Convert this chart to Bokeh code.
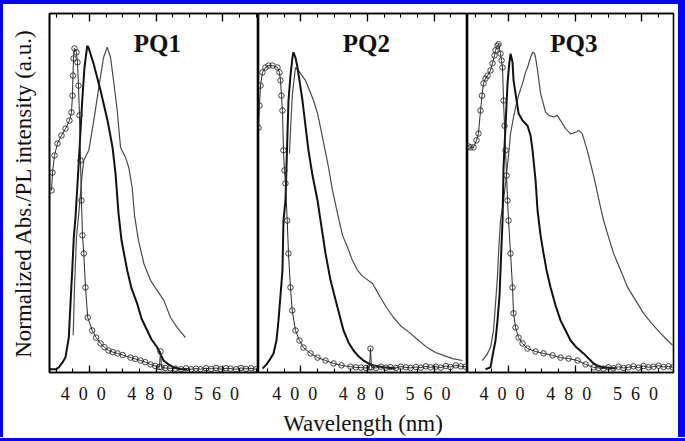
from bokeh.plotting import figure
from bokeh.layouts import row, column
from bokeh.models import Range1d, FixedTicker, LinearAxis, Label, Div
from bokeh.embed import file_html
from bokeh.resources import INLINE

# ---------------- data ----------------
WAVELENGTH_TICKS = [400, 480, 560]
WAVELENGTH_MINOR = [360, 380, 400, 420, 440, 460, 480, 500, 520, 540, 560, 580, 600]
TICK_LABELS = ["4 0 0", "4 8 0", "5 6 0"]
PANEL_TITLES = ["PQ1", "PQ2", "PQ3"]
Y_LABEL = "Normalized Abs./PL intensity (a.u.)"
X_LABEL = "Wavelength (nm)"

# PQ1
pq1_abs_nm = [354.4, 355.6, 358.0, 361.6, 366.4, 371.2, 376.0, 378.4, 379.6, 380.2, 380.8, 382.0,
              384.4, 385.6, 386.8, 388.0, 389.2, 390.4, 391.6, 393.2, 395.2, 397.9, 403.3, 408.0,
              413.3, 418.0, 422.9, 428.0, 433.7, 440.0, 449.3, 455.0, 461.3, 467.0, 473.3, 479.0,
              484.0, 485.3, 486.5, 491.0, 497.0, 503.3, 510.0, 516.0, 522.0, 528.0, 533.4, 540.0,
              546.0, 552.0, 558.0, 564.0, 569.4, 576.0, 582.0, 588.0, 594.0, 600.0]
pq1_abs = [0.553, 0.608, 0.661, 0.698, 0.723, 0.744, 0.769, 0.794, 0.846, 0.908, 0.961, 0.992,
           0.980, 0.949, 0.877, 0.785, 0.646, 0.522, 0.414, 0.358, 0.253, 0.160, 0.120, 0.098,
           0.080, 0.068, 0.058, 0.053, 0.049, 0.044, 0.036, 0.032, 0.027, 0.022, 0.015, 0.010,
           0.007, 0.055, 0.006, 0.004, 0.003, 0.002, 0.0, 0.003, 0.0, 0.002, 0.0, 0.003,
           0.001, 0.004, 0.0, 0.003, 0.002, 0.0, 0.004, 0.001, 0.003, 0.0]
pq1_sol_nm = [352.0, 359.2, 363.2, 367.6, 371.2, 375.2, 377.2, 379.3, 381.2, 383.2, 386.8, 391.3,
              394.0, 397.3, 398.8, 404.8, 413.3, 421.7, 427.7, 431.3, 434.9, 438.5, 445.3, 450.5,
              457.3, 462.5, 469.3, 474.5, 481.3, 488.9, 494.9, 500.9, 509.3, 517.4]
pq1_sol = [0.0, 0.0, 0.006, 0.021, 0.037, 0.099, 0.203, 0.306, 0.408, 0.469, 0.624, 0.831,
           0.933, 1.0, 0.995, 0.946, 0.862, 0.769, 0.686, 0.605, 0.482, 0.398, 0.306, 0.250,
           0.203, 0.157, 0.120, 0.092, 0.068, 0.027, 0.015, 0.006, 0.0, 0.0]
pq1_film_nm = [380.5, 382.0, 384.4, 387.2, 391.3, 393.2, 399.2, 405.2, 411.2, 416.9, 421.3, 425.3,
               428.9, 433.3, 437.3, 443.3, 447.2, 451.3, 454.1, 458.9, 465.3, 473.3, 481.3, 489.3,
               497.3, 505.4, 515.3]
pq1_film = [0.105, 0.253, 0.408, 0.482, 0.605, 0.646, 0.677, 0.769, 0.871, 0.964, 0.996, 0.964,
            0.893, 0.800, 0.686, 0.655, 0.624, 0.562, 0.476, 0.398, 0.327, 0.275, 0.244, 0.213,
            0.160, 0.129, 0.098]

# PQ2
pq2_abs_nm = [349.0, 350.2, 351.4, 353.8, 357.4, 361.0, 365.8, 371.8, 374.2, 375.4, 376.6, 377.8,
              379.0, 380.2, 381.4, 383.5, 385.0, 387.4, 389.5, 393.4, 398.2, 403.0, 411.5, 419.9,
              429.5, 439.1, 448.7, 459.5, 466.0, 472.0, 478.0, 482.3, 483.5, 484.7, 490.0, 496.0,
              502.0, 507.5, 514.0, 520.0, 526.0, 531.6, 538.0, 544.0, 550.0, 555.6, 562.0, 568.0,
              574.0, 579.6, 586.0, 592.0, 597.6]
pq2_abs = [0.747, 0.815, 0.877, 0.918, 0.933, 0.939, 0.939, 0.933, 0.918, 0.893, 0.846, 0.800,
           0.677, 0.615, 0.575, 0.460, 0.358, 0.253, 0.182, 0.120, 0.089, 0.067, 0.049, 0.036,
           0.027, 0.018, 0.012, 0.008, 0.006, 0.005, 0.004, 0.006, 0.064, 0.006, 0.004, 0.008,
           0.005, 0.007, 0.004, 0.008, 0.006, 0.004, 0.007, 0.005, 0.009, 0.006, 0.008, 0.005,
           0.010, 0.007, 0.012, 0.009, 0.008]
pq2_sol_nm = [353.8, 358.6, 363.4, 367.0, 370.6, 373.0, 375.4, 377.8, 379.0, 381.4, 383.2, 385.0,
              387.4, 389.8, 391.0, 393.4, 395.8, 398.2, 401.8, 405.4, 409.0, 413.9, 419.9, 423.5,
              429.5, 435.5, 443.9, 451.1, 457.1, 463.1, 469.1, 475.1, 481.1, 487.1, 499.1, 513.5]
pq2_sol = [0.002, 0.015, 0.033, 0.049, 0.089, 0.151, 0.228, 0.306, 0.460, 0.522, 0.677, 0.831,
           0.908, 0.964, 0.980, 0.964, 0.933, 0.893, 0.831, 0.753, 0.677, 0.599, 0.522, 0.460,
           0.358, 0.275, 0.191, 0.120, 0.083, 0.058, 0.040, 0.027, 0.018, 0.012, 0.006, 0.002]
pq2_film_nm = [386.2, 388.0, 389.8, 393.4, 397.0, 399.4, 405.4, 410.3, 415.1, 419.9, 423.5, 428.3,
               433.1, 437.9, 443.9, 449.9, 455.9, 461.9, 467.9, 473.9, 477.5, 485.9, 490.7, 495.5,
               502.7, 511.1, 520.7, 531.6, 541.2, 551.8, 561.6, 571.2, 582.0, 594.0]
pq2_film = [0.667, 0.769, 0.853, 0.933, 0.924, 0.915, 0.893, 0.862, 0.831, 0.791, 0.747, 0.686,
            0.624, 0.553, 0.482, 0.414, 0.377, 0.336, 0.306, 0.288, 0.281, 0.265, 0.244, 0.222,
            0.191, 0.160, 0.132, 0.111, 0.089, 0.067, 0.052, 0.043, 0.033, 0.027]

# PQ3
pq3_abs_nm = [352.2, 354.6, 358.2, 361.8, 364.2, 366.6, 368.4, 370.2, 372.6, 375.0, 378.6, 381.0,
              383.4, 384.6, 387.0, 388.2, 390.6, 391.8, 393.0, 394.2, 395.4, 396.6, 397.8, 399.0,
              400.2, 402.6, 405.0, 406.2, 408.6, 412.2, 417.0, 423.0, 432.6, 442.2, 453.0, 462.6,
              472.2, 483.0, 492.6, 502.2, 508.0, 514.0, 520.0, 526.0, 532.0, 538.0, 544.0, 550.0,
              556.0, 562.0, 568.0, 574.0, 580.0, 586.0, 592.0, 597.0]
pq3_abs = [0.689, 0.686, 0.686, 0.708, 0.729, 0.800, 0.846, 0.884, 0.899, 0.908, 0.924, 0.946,
           0.970, 0.986, 1.0, 1.005, 0.976, 0.955, 0.933, 0.831, 0.753, 0.677, 0.599, 0.522,
           0.460, 0.358, 0.253, 0.173, 0.129, 0.098, 0.080, 0.064, 0.055, 0.049, 0.043, 0.036,
           0.033, 0.027, 0.015, 0.006, 0.004, 0.002, 0.006, 0.003, 0.008, 0.004, 0.006, 0.009,
           0.005, 0.010, 0.006, 0.008, 0.011, 0.007, 0.009, 0.006]
pq3_sol_nm = [372.6, 378.6, 382.2, 384.6, 387.0, 389.4, 390.6, 393.0, 394.2, 396.6, 399.0, 400.8,
              402.6, 405.0, 406.2, 408.6, 412.2, 417.0, 423.0, 426.6, 429.0, 432.6, 435.0, 438.6,
              442.2, 445.8, 450.6, 456.6, 462.6, 468.6, 474.6, 481.8, 490.2, 496.2, 502.2, 508.2,
              514.2, 528.6]
pq3_sol = [0.0, 0.006, 0.058, 0.089, 0.151, 0.228, 0.306, 0.460, 0.624, 0.753, 0.884, 0.939,
           0.976, 0.949, 0.893, 0.853, 0.791, 0.769, 0.753, 0.723, 0.677, 0.584, 0.491, 0.414,
           0.358, 0.306, 0.253, 0.197, 0.151, 0.120, 0.089, 0.067, 0.049, 0.033, 0.018, 0.009,
           0.006, 0.002]
pq3_film_nm = [368.6, 373.8, 378.6, 382.2, 384.6, 387.0, 388.2, 390.6, 394.2, 396.6, 400.2, 402.6,
               406.2, 408.6, 412.2, 417.0, 420.6, 423.0, 426.6, 429.0, 431.4, 432.6, 435.0, 438.6,
               444.6, 448.6, 454.6, 458.6, 462.6, 468.6, 474.6, 480.6, 484.6, 488.6, 494.6, 502.6,
               510.6, 514.2, 520.2, 526.2, 534.6, 543.0, 552.6, 562.2, 571.8, 582.6, 591.0, 597.0]
pq3_film = [0.027, 0.043, 0.067, 0.120, 0.203, 0.290, 0.358, 0.460, 0.522, 0.575, 0.661, 0.729,
            0.779, 0.809, 0.846, 0.884, 0.918, 0.933, 0.964, 0.980, 0.976, 0.964, 0.924, 0.853,
            0.795, 0.785, 0.780, 0.785, 0.769, 0.744, 0.728, 0.733, 0.738, 0.728, 0.677, 0.594,
            0.500, 0.460, 0.408, 0.358, 0.306, 0.253, 0.213, 0.173, 0.142, 0.111, 0.089, 0.074]

# ---------------- styling ----------------
SERIF = "Liberation Serif"
BLUE = "#0404f4"
EN = "\u2002"
THIN = "\u2009"
FRAME_H = 359
FIG_H = 433


def tick_text(s):
    return s.replace(" ", EN) + EN + THIN


def bar(w, h):
    return Div(text="", width=w, height=h,
               styles={"background-color": BLUE, "margin": "0", "padding": "0"})


def panel(xr, frame_w, left, right, title, abs_x, abs_y, sol_x, sol_y, film_x, film_y,
          ylabel=None, xlabel=None):
    p = figure(frame_width=frame_w, frame_height=FRAME_H,
               x_range=Range1d(*xr), y_range=Range1d(-0.01, 1.1),
               output_backend="svg", toolbar_location=None,
               x_axis_location=None, y_axis_location=None,
               min_border_left=left, min_border_right=right,
               min_border_top=9, min_border_bottom=FIG_H - FRAME_H - 9)
    p.grid.visible = False
    p.outline_line_color = "black"
    p.outline_line_width = 1.6
    p.background_fill_color = "white"
    p.border_fill_color = "white"

    overrides = {t: tick_text(l) for t, l in zip(WAVELENGTH_TICKS, TICK_LABELS)}
    bottom = LinearAxis(ticker=FixedTicker(ticks=WAVELENGTH_TICKS, minor_ticks=WAVELENGTH_MINOR),
                        major_label_overrides=overrides,
                        major_tick_in=7, major_tick_out=0, minor_tick_in=4, minor_tick_out=0,
                        major_tick_line_width=1.3, minor_tick_line_width=1.1,
                        axis_line_width=1.6, major_label_standoff=11,
                        major_label_text_font=SERIF, major_label_text_font_size="18px",
                        major_label_text_color="#111111")
    if xlabel:
        bottom.axis_label = xlabel
        bottom.axis_label_text_font = SERIF
        bottom.axis_label_text_font_size = "23px"
        bottom.axis_label_text_font_style = "normal"
        bottom.axis_label_standoff = 4
        bottom.axis_label_text_color = "#111111"
    p.add_layout(bottom, "below")

    top = LinearAxis(ticker=FixedTicker(ticks=WAVELENGTH_TICKS, minor_ticks=WAVELENGTH_MINOR),
                     major_tick_in=8, major_tick_out=0, minor_tick_in=4, minor_tick_out=0,
                     major_tick_line_width=1.3, minor_tick_line_width=1.1,
                     axis_line_width=1.6, major_label_standoff=0,
                     major_label_text_alpha=0, major_label_text_color=None)
    p.add_layout(top, "above")

    if ylabel:
        yax = LinearAxis(ticker=FixedTicker(ticks=[]), axis_label=ylabel,
                         axis_label_text_font=SERIF, axis_label_text_font_size="23px",
                         axis_label_text_font_style="normal", axis_label_standoff=14,
                         axis_label_text_color="#111111",
                         major_tick_in=0, major_tick_out=0, minor_tick_in=0, minor_tick_out=0,
                         major_label_text_alpha=0, major_label_text_color=None,
                         axis_line_width=1.6)
        p.add_layout(yax, "left")

    p.line(film_x, film_y, line_color="#4a4a4a", line_width=1.2)
    p.line(sol_x, sol_y, line_color="#111111", line_width=2.0)
    p.line(abs_x, abs_y, line_color="#2a2a2a", line_width=1.0)
    p.scatter(abs_x, abs_y, marker="circle", size=5.5, line_color="#2a2a2a",
              fill_alpha=0, line_width=0.9)

    mid = (xr[0] + xr[1]) / 2 + 4
    p.add_layout(Label(x=mid, y=1.007, text=title, text_align="center", text_baseline="middle",
                       text_font=SERIF, text_font_style="bold", text_font_size="25px",
                       text_color="#111111"))
    return p


p1 = panel((352, 603), 209, 46, 0, PANEL_TITLES[0], pq1_abs_nm, pq1_abs, pq1_sol_nm, pq1_sol,
           pq1_film_nm, pq1_film, ylabel=Y_LABEL)
p2 = panel((349, 600), 209, 0, 0, PANEL_TITLES[1], pq2_abs_nm, pq2_abs, pq2_sol_nm, pq2_sol,
           pq2_film_nm, pq2_film, xlabel=X_LABEL)
p3 = panel((351, 598), 206, 0, 5, PANEL_TITLES[2], pq3_abs_nm, pq3_abs, pq3_sol_nm, pq3_sol,
           pq3_film_nm, pq3_film)

layout = column(
    bar(685, 4),
    row(bar(3, FIG_H), p1, p2, p3, bar(7, FIG_H), spacing=0),
    bar(685, 4),
    spacing=0,
)

open("out.html", "w").write(file_html(layout, INLINE))
